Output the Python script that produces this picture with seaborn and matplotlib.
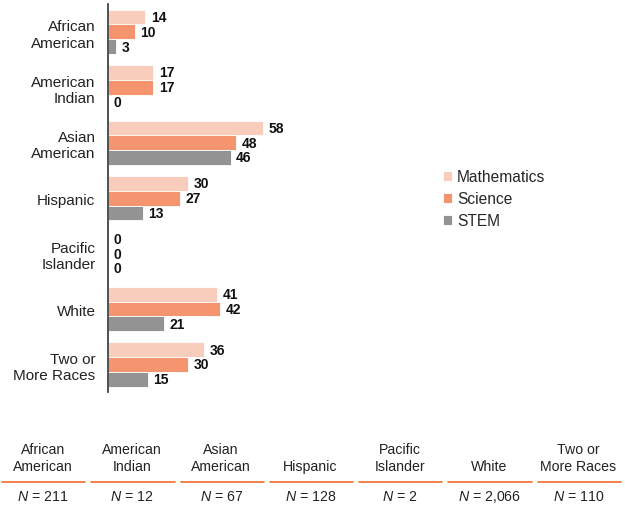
import matplotlib
matplotlib.use("Agg")
import matplotlib.pyplot as plt
import pandas as pd
import seaborn as sns

sns.set_theme(style="white")
plt.rcParams["font.family"] = ["Liberation Sans", "DejaVu Sans"]
plt.rcParams["mathtext.fontset"] = "custom"
plt.rcParams["mathtext.it"] = "Liberation Sans:italic"
plt.rcParams["mathtext.rm"] = "Liberation Sans"

groups = ["African\nAmerican", "American\nIndian", "Asian\nAmerican", "Hispanic",
          "Pacific\nIslander", "White", "Two or\nMore Races"]
subjects = ["Mathematics", "Science", "STEM"]
math = [14, 17, 58, 30, 0, 41, 36]
science = [10, 17, 48, 27, 0, 42, 30]
stem = [3, 0, 46, 13, 0, 21, 15]
n_counts = ["211", "12", "67", "128", "2", "2,066", "110"]

colors = ["#F9CDBB", "#F4956F", "#939393"]

rows = []
for g, a, b, c in zip(groups, math, science, stem):
    rows.append((g, "Mathematics", a))
    rows.append((g, "Science", b))
    rows.append((g, "STEM", c))
df = pd.DataFrame(rows, columns=["group", "subject", "value"])

fig = plt.figure(figsize=(6.25, 5.1), dpi=100)
ax = fig.add_axes([0.1728, 0.229, 0.512, 0.761])

sns.barplot(data=df, y="group", x="value", hue="subject", hue_order=subjects,
            palette=colors, saturation=1, orient="h", width=0.8, ax=ax,
            edgecolor="white", linewidth=0.6)

for cont in ax.containers:
    ax.bar_label(cont, labels=[f"{v:g}" for v in cont.datavalues], padding=4,
                 fontsize=10, fontweight="bold", color="#111111")

ax.set_xlim(0, 120)
ax.set_xlabel("")
ax.set_ylabel("")
ax.set_xticks([])
ax.tick_params(axis="y", length=0, labelsize=11, labelcolor="#222222", pad=9)
for s in ["top", "right", "bottom"]:
    ax.spines[s].set_visible(False)
ax.spines["left"].set_color("#333333")
ax.spines["left"].set_linewidth(1.2)

ax.legend(loc="center left", bbox_to_anchor=(0.696, 1 - 200 / 510),
          bbox_transform=fig.transFigure, frameon=False, fontsize=11.2,
          handlelength=0.6, handleheight=0.6, handletextpad=0.3, labelspacing=0.45,
          borderpad=0)

# bottom table with group sizes
col_w = 625 / 7
for i, (g, n) in enumerate(zip(groups, n_counts)):
    cx = (i * col_w + col_w / 2 - 2) / 625
    fig.text(cx, 1 - 474 / 510, g, ha="center", va="bottom", fontsize=10.2,
             color="#222222", linespacing=1.3)
    x0 = (i * col_w + 2) / 625
    x1 = ((i + 1) * col_w - 4) / 625
    fig.add_artist(plt.Line2D([x0, x1], [1 - 483 / 510] * 2, color="#F26B2C",
                              linewidth=1.2, transform=fig.transFigure))
    fig.text(cx, 1 - 497 / 510, f"$\\it{{N}}$ = {n}", ha="center", va="center",
             fontsize=10.2, color="#222222")

fig.savefig("out.png", dpi=100)
